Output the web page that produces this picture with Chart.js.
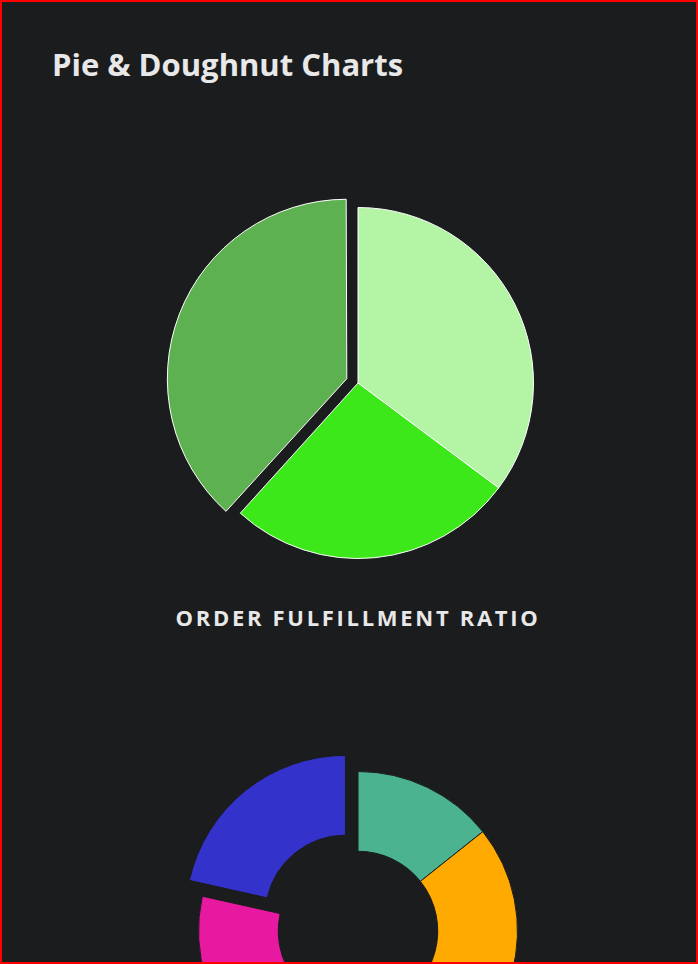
<!DOCTYPE html>
<html>
<head>
<meta charset="utf-8">
<script src="https://cdn.jsdelivr.net/npm/chart.js@4"></script>
<style>
    html, body { margin: 0; padding: 0; background: #1b1c1e; }
    .page {
        position: relative;
        width: 698px;
        height: 964px;
        box-sizing: border-box;
        border: 2px solid #ff0000;
        overflow: hidden;
        font-family: "Open Sans", "Noto Sans", sans-serif;
        color: #e8e8e8;
    }
    h2 {
        position: absolute;
        left: 50px;
        top: 42px;
        margin: 0;
        font-size: 31px;
        line-height: 40px;
        font-weight: 700;
    }
    .chart-box {
        position: absolute;
        left: 50px;
        width: 612px;
        height: 400px;
    }
    .caption {
        position: absolute;
        left: 50px;
        width: 612px;
        text-align: center;
        font-size: 22px;
        line-height: 30px;
        font-weight: 700;
        letter-spacing: 2.7px;
        text-transform: uppercase;
    }
</style>
</head>
<body>
<div class="page">
    <h2 id="title">Pie &amp; Doughnut Charts</h2>
    <div class="chart-box" style="top: 181px;"><canvas id="pieChart"></canvas></div>
    <div class="caption" id="pieCaption" style="top: 600px;"></div>
    <div class="chart-box" style="top: 729px;"><canvas id="doughnutChart"></canvas></div>
</div>
<script>
// pie: order fulfillment ratio (share of orders, %)
const pieTitle = "Order Fulfillment Ratio";
const pieLabels = ["Delivered", "Shipped", "Processing"];
const pieValues = [35.2, 26.5, 38.3];
const pieColors = ["#b3f5a5", "#3de81a", "#5eb150"];
const pieOffsets = [0, 0, 48];

// doughnut: only the top half is visible in the picture
const doughnutLabels = ["Online", "Retail", "Wholesale", "Partners"];
const doughnutValues = [14.3, 30, 34.2, 21.5];
const doughnutColors = ["#4cb391", "#ffaa00", "#e619a0", "#3333cc"];
const doughnutOffsets = [0, 0, 0, 80];

document.addEventListener("DOMContentLoaded", function () {
    document.getElementById("pieCaption").textContent = pieTitle;
    initializePie();
    initializeDoughnut();
});

function baseOptions(extra) {
    return Object.assign({
        responsive: true,
        maintainAspectRatio: false,
        animation: false,
        layout: { padding: 0 },
        plugins: {
            legend: { display: false },
            tooltip: { enabled: false },
        },
    }, extra);
}

function initializePie() {
    const ctx = document.getElementById("pieChart");
    new Chart(ctx, {
        type: "pie",
        data: {
            labels: pieLabels,
            datasets: [{
                data: pieValues,
                backgroundColor: pieColors,
                borderColor: "#ffffff",
                borderWidth: 1,
                offset: pieOffsets,
                hoverOffset: 0,
            }],
        },
        options: baseOptions({}),
    });
}

function initializeDoughnut() {
    const ctx = document.getElementById("doughnutChart");
    new Chart(ctx, {
        type: "doughnut",
        data: {
            labels: doughnutLabels,
            datasets: [{
                data: doughnutValues,
                backgroundColor: doughnutColors,
                borderColor: "#1b1c1e",
                borderWidth: 1,
                offset: doughnutOffsets,
                hoverOffset: 0,
            }],
        },
        options: baseOptions({ cutout: "50%" }),
    });
}
</script>
</body>
</html>
